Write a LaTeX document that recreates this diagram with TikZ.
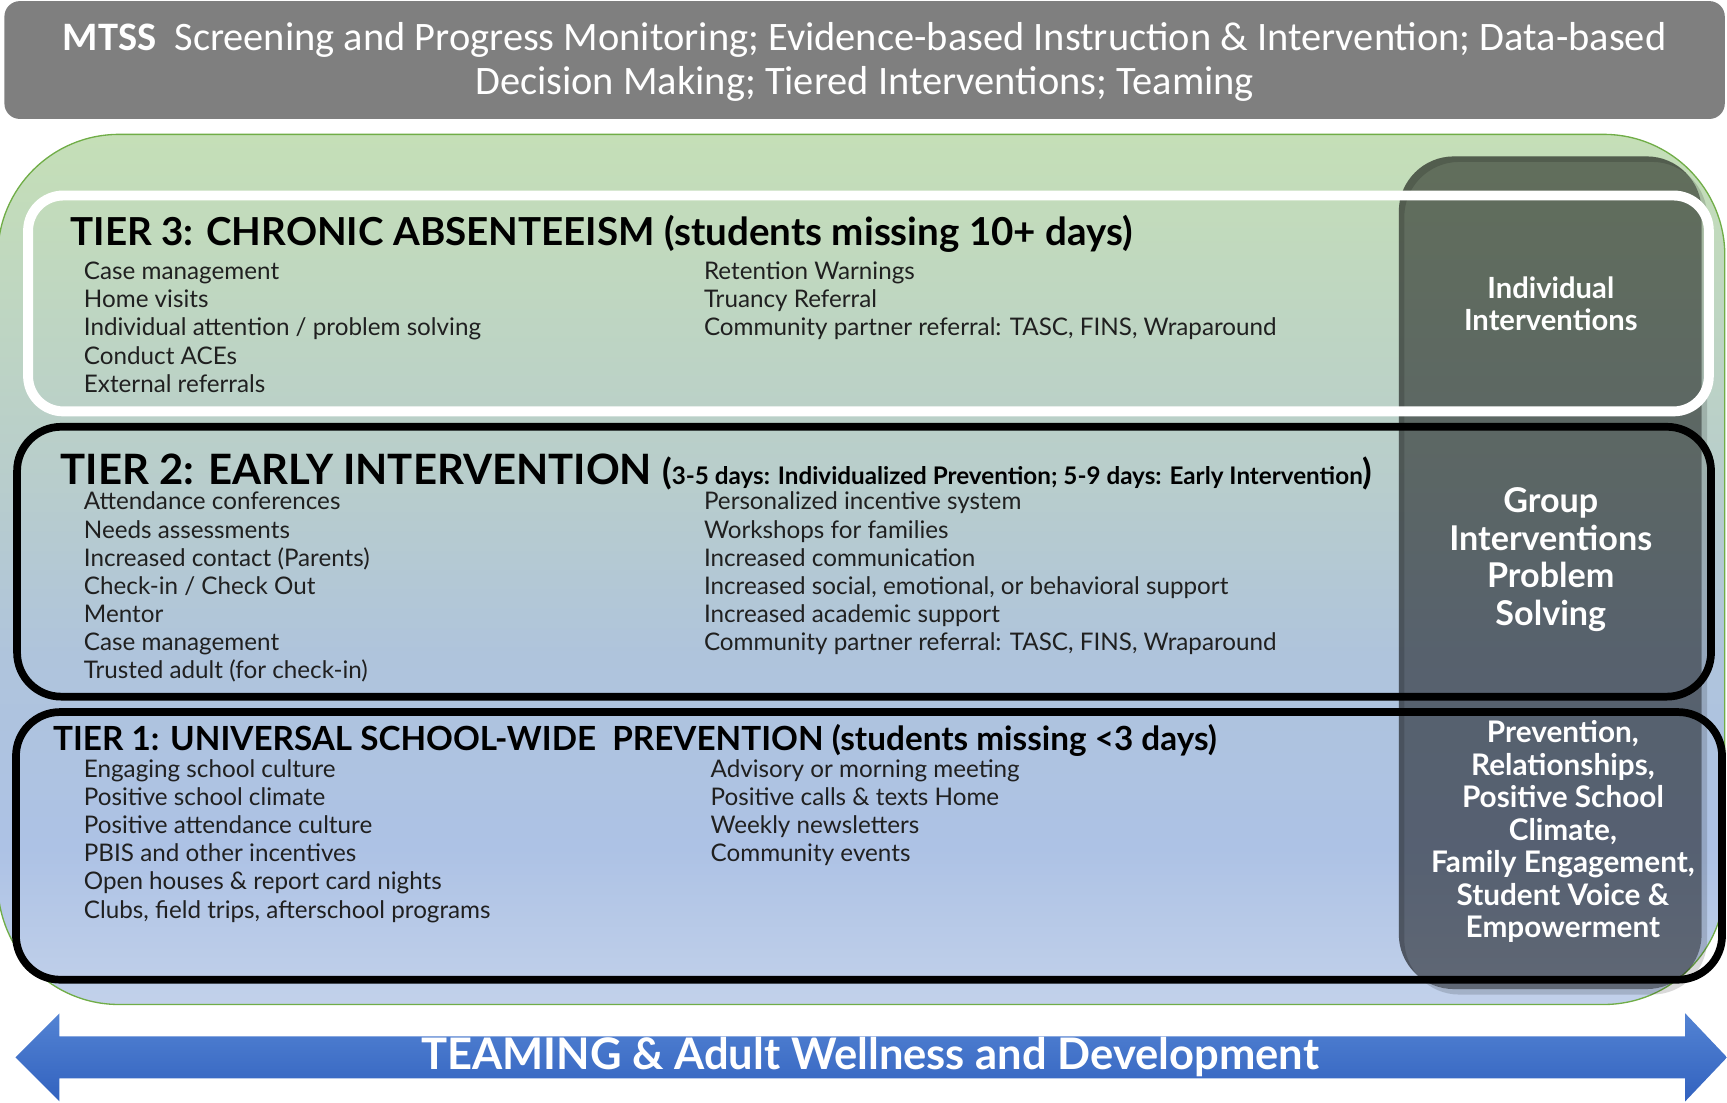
\documentclass[tikz,border=0pt]{standalone}
\usepackage{fontspec}
\setmainfont{Lato}
\newfontfamily\calib{Carlito}
\definecolor{bannergray}{HTML}{7F7F7F}
\definecolor{cbA}{HTML}{C2D1EA}
\definecolor{cbB}{HTML}{ADC2E5}
\definecolor{cbC}{HTML}{AFC4DC}
\definecolor{cbD}{HTML}{B8CDCC}
\definecolor{cbE}{HTML}{C5DFB7}
\definecolor{greenline}{HTML}{70AD47}
\definecolor{itemtext}{HTML}{202020}
\definecolor{arrowtop}{HTML}{5383D3}
\definecolor{arrowbot}{HTML}{3262BF}
\pgfdeclareverticalshading{bgshade}{100bp}{color(0bp)=(cbA); color(25bp)=(cbA); color(34bp)=(cbB); color(45bp)=(cbC); color(55bp)=(cbD); color(75bp)=(cbE); color(100bp)=(cbE)}
\newcommand{\fsz}[2]{\fontsize{#1pt}{#2pt}\selectfont}
\begin{document}
\begin{tikzpicture}[x=1pt,y=-1pt,
  banner/.style={fill=bannergray, rounded corners=14pt, minimum width=1562pt, minimum height=107pt, inner sep=0pt},
  bannertext/.style={text=white, align=center, font=\calib\fsz{36.7}{40}, inner sep=0pt},
  frame3/.style={draw=white, line width=9pt, rounded corners=32pt, minimum width=1526pt, minimum height=196pt, inner sep=0pt},
  frameblk/.style={draw=black, line width=7pt, rounded corners=40pt, inner sep=0pt},
  item/.style={anchor=base west, inner sep=0pt, text=itemtext, font=\fsz{22}{26}},
  tiertitle/.style={anchor=base west, inner sep=0pt, text=black, font=\bfseries},
  coltext/.style={text=white, align=center, inner sep=0pt, font=\bfseries},
  arrowtext/.style={text=white, inner sep=0pt, font=\bfseries\fsz{39.5}{44}}
]
\useasboundingbox (0,0) rectangle (1568,1001);
% top banner
\node[banner] (banner) at (785,54.5) {};
\node[bannertext] (bannertxt) at (785,56) {{\bfseries MTSS}\ \ Screening and Progress Monitoring; Evidence-based Instruction \& Intervention; Data-based\\Decision Making; Tiered Interventions; Teaming};
% background shape
\shadedraw[shading=bgshade, draw=greenline, line width=1.2pt, rounded corners=110pt] (-2,122) rectangle (1566,912);
% dark right column with soft shadow (shadow only outside the column)
\fill[black, opacity=0.15, even odd rule, rounded corners=50pt] (1275,147) rectangle (1550,903) (1270,142) rectangle (1545,898);
\fill[black, opacity=0.5, rounded corners=50pt] (1270,142) rectangle (1545,898);
% tier frames
\node[frame3] (tier3) at (788.5,275.5) {};
\node[frameblk, minimum width=1538pt, minimum height=245pt] (tier2) at (784.5,510) {};
\node[frameblk, minimum width=1549pt, minimum height=243pt] (tier1) at (789,768) {};
% tier 3
\node[tiertitle, font=\bfseries\fsz{35}{40}] (t3title) at (64,223) {TIER 3: CHRONIC ABSENTEEISM (students missing 10+ days)};
\foreach \t [count=\i] in {{Case management},{Home visits},{Individual attention / problem solving},{Conduct ACEs},{External referrals}}
  \node[item] (t3l\i) at (76,{254+25.5*(\i-1)}) {\t};
\foreach \t [count=\i] in {{Retention Warnings},{Truancy Referral},{Community partner referral: TASC, FINS, Wraparound}}
  \node[item] (t3r\i) at (639,{254+25.5*(\i-1)}) {\t};
% tier 2
\node[tiertitle, font=\bfseries\fsz{38}{42}] (t2title) at (55,439.5) {TIER 2: EARLY INTERVENTION {\fsz{32}{36}(}\fsz{22}{26}3-5 days: Individualized Prevention; 5-9 days: Early Intervention\fsz{32}{36})};
\foreach \t [count=\i] in {{Attendance conferences},{Needs assessments},{Increased contact (Parents)},{Check-in / Check Out},{Mentor},{Case management},{Trusted adult (for check-in)}}
  \node[item] (t2l\i) at (76,{463+25.5*(\i-1)}) {\t};
\foreach \t [count=\i] in {{Personalized incentive system},{Workshops for families},{Increased communication},{Increased social, emotional, or behavioral support},{Increased academic support},{Community partner referral: TASC, FINS, Wraparound}}
  \node[item] (t2r\i) at (639,{463+25.5*(\i-1)}) {\t};
% tier 1
\node[tiertitle, font=\bfseries\fsz{30.2}{36}] (t1title) at (48,681) {TIER 1: UNIVERSAL SCHOOL-WIDE\ \ PREVENTION (students missing <3 days)};
\foreach \t [count=\i] in {{Engaging school culture},{Positive school climate},{Positive attendance culture},{PBIS and other incentives},{Open houses \& report card nights},{Clubs, field trips, afterschool programs}}
  \node[item] (t1l\i) at (76,{706+25.5*(\i-1)}) {\t};
\foreach \t [count=\i] in {{Advisory or morning meeting},{Positive calls \& texts Home},{Weekly newsletters},{Community events}}
  \node[item] (t1r\i) at (645,{706+25.5*(\i-1)}) {\t};
% right column labels
\node[coltext, font=\bfseries\fsz{26.5}{29}] (col3) at (1408,276) {Individual\\Interventions};
\node[coltext, font=\bfseries\fsz{31}{34}] (col2) at (1408,508) {Group\\Interventions\\Problem\\Solving};
\node[coltext, font=\bfseries\fsz{27}{29.5}] (col1) at (1419,755) {Prevention,\\Relationships,\\Positive School\\Climate,\\Family Engagement,\\Student Voice \&\\Empowerment};
% bottom arrow
\shade[top color=arrowtop, bottom color=arrowbot] (14,960) -- (54,920) -- (54,941) -- (1530,941) -- (1530,920) -- (1568,960) -- (1530,1000) -- (1530,979) -- (54,979) -- (54,1000) -- cycle;
\node[arrowtext] (arrowlabel) at (790,960) {TEAMING \& Adult Wellness and Development};
\end{tikzpicture}
\end{document}
